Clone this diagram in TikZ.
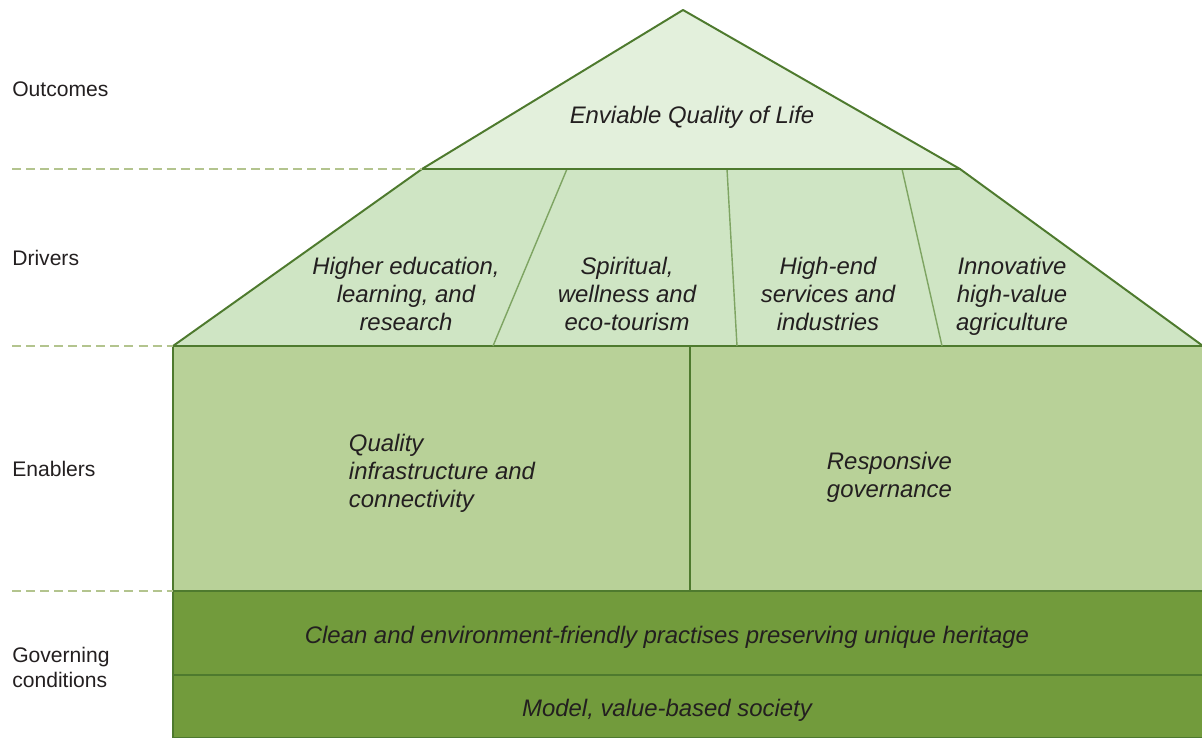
\documentclass[tikz,border=0pt]{standalone}
\usepackage{fontspec}
\setmainfont{Liberation Sans}
\definecolor{roofgreen}{HTML}{E3F0DC}
\definecolor{drivegreen}{HTML}{CFE5C4}
\definecolor{wallgreen}{HTML}{B8D198}
\definecolor{basegreen}{HTML}{729B3C}
\definecolor{rimgreen}{HTML}{4E7A2E}
\definecolor{splitgreen}{HTML}{7EA462}
\definecolor{levelgreen}{HTML}{B3C48E}
\definecolor{inkgray}{HTML}{231F20}
\begin{document}
\begin{tikzpicture}[x=0.025cm,y=-0.025cm,line join=round,
    font=\fontsize{17}{20}\selectfont\itshape,
    rim/.style={draw=rimgreen,line width=1.4pt},
    split/.style={draw=splitgreen,line width=1pt},
    level/.style={draw=levelgreen,line width=1pt,dash pattern=on 6.4pt off 3.6pt},
    tag/.style={anchor=west,align=left,inner xsep=0pt,text=inkgray,font=\fontsize{15}{17.8}\selectfont},
    txt/.style={align=center,text=inkgray}]
    \useasboundingbox (0,0) rectangle (1202,737);
    \path
    (683,10) coordinate (top)
    (422,169) coordinate (ol) (960,169) coordinate (or)
    (173,346) coordinate (dl) (1203,346) coordinate (dr)
    (173,591) coordinate (el) (1203,591) coordinate (er)
    (173,675) coordinate (gl) (1203,675) coordinate (gr)
    (173,738) coordinate (bl) (1203,738) coordinate (br);
    % house body
    \filldraw[rim,fill=basegreen] (el) rectangle (br);
    \draw[rim] (gl)--(gr);
    \filldraw[rim,fill=wallgreen] (dl) rectangle (er);
    \draw[rim] (690,346)--(690,591);
    \filldraw[rim,fill=drivegreen] (ol)--(or)--(dr)--(dl)--cycle;
    \foreach \a/\b in {567/493,727/737,902/942}{
        \draw[split] (\a,169)--(\b,346);
    }
    \filldraw[rim,fill=roofgreen] (top)--(or)--(ol)--cycle;
    % level marks on the left
    \draw[level] (12,169)--(ol);
    \draw[level] (12,346)--(dl);
    \draw[level] (12,591)--(el);
    \node[tag] (outcomes) at (12,89) {Outcomes};
    \node[tag] (drivers) at (12,258) {Drivers};
    \node[tag] (enablers) at (12,469) {Enablers};
    \node[tag] (governing) at (12,667) {Governing\\conditions};
    % texts in the house
    \node[txt] (life) at (692,117) {Enviable Quality of Life};
    \node[txt] (edu) at (406,294) {Higher education,\\learning, and\\research};
    \node[txt] (tour) at (627,294) {Spiritual,\\wellness and\\eco-tourism};
    \node[txt] (ind) at (828,294) {High-end\\services and\\industries};
    \node[txt] (agri) at (1012,296) {Innovative\\high-value\\agriculture};
    \node[txt,align=left,anchor=west] (infra) at (344,473) {Quality\\infrastructure and\\connectivity};
    \node[txt,align=left,anchor=west] (gov) at (822,477) {Responsive\\governance};
    \node[txt] (clean) at (667,637) {Clean and environment-friendly practises preserving unique heritage};
    \node[txt] (model) at (667,710) {Model, value-based society};
\end{tikzpicture}
\end{document}
